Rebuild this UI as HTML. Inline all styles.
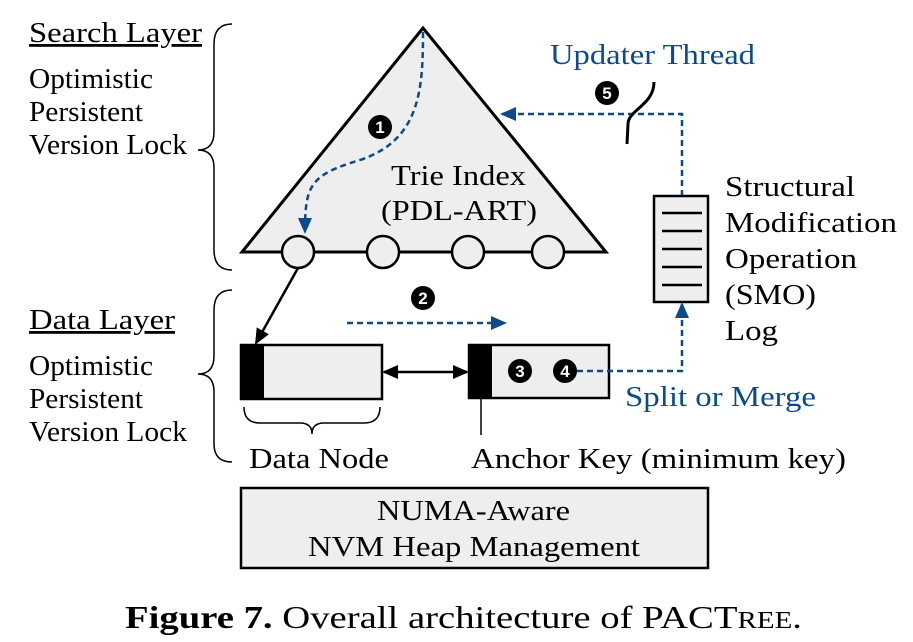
<!DOCTYPE html>
<html><head><style>
body{margin:0;background:#fff;}
svg{display:block;font-family:"Liberation Serif",serif;}
</style></head><body>
<svg width="913" height="642" viewBox="0 0 913 642" xmlns="http://www.w3.org/2000/svg">
<defs>
<marker id="ab" markerWidth="16" markerHeight="14" refX="14" refY="7" orient="auto" markerUnits="userSpaceOnUse"><path d="M0,0 L16,7 L0,14 z" fill="#0d4a8a"/></marker>
<marker id="ak" markerWidth="16" markerHeight="14" refX="14" refY="7" orient="auto-start-reverse" markerUnits="userSpaceOnUse"><path d="M0,0 L16,7 L0,14 z" fill="#000"/></marker>
</defs>
<g font-size="28" fill="#000">
<text x="29" y="42" text-decoration="underline" textLength="173" lengthAdjust="spacingAndGlyphs">Search Layer</text>
<text x="29" y="88" textLength="124" lengthAdjust="spacingAndGlyphs">Optimistic</text>
<text x="29" y="121" textLength="114" lengthAdjust="spacingAndGlyphs">Persistent</text>
<text x="29" y="154" textLength="158" lengthAdjust="spacingAndGlyphs">Version Lock</text>
<text x="29" y="329" text-decoration="underline" textLength="146" lengthAdjust="spacingAndGlyphs">Data Layer</text>
<text x="29" y="375" textLength="124" lengthAdjust="spacingAndGlyphs">Optimistic</text>
<text x="29" y="408" textLength="114" lengthAdjust="spacingAndGlyphs">Persistent</text>
<text x="29" y="441" textLength="158" lengthAdjust="spacingAndGlyphs">Version Lock</text>
</g>
<path d="M232,24 Q214,24 214,44 L214,132 Q214,150 198,150 Q214,150 214,168 L214,250 Q214,270 232,270" fill="none" stroke="#000" stroke-width="1.5"/>
<path d="M232,290 Q214,290 214,310 L214,356 Q214,374 198,374 Q214,374 214,392 L214,444 Q214,462 232,462" fill="none" stroke="#000" stroke-width="1.5"/>
<polygon points="423,28 242,252 606,252" fill="#eeeeee" stroke="#000" stroke-width="3"/>
<g fill="#eeeeee" stroke="#000" stroke-width="2.5">
<circle cx="298" cy="252" r="16"/><circle cx="383" cy="252" r="16"/><circle cx="468" cy="252" r="16"/><circle cx="548" cy="252" r="16"/>
</g>
<text x="391" y="185" font-size="28" textLength="135" lengthAdjust="spacingAndGlyphs">Trie Index</text>
<text x="381" y="220" font-size="28" textLength="156" lengthAdjust="spacingAndGlyphs">(PDL-ART)</text>
<path d="M423,32 C423,90 420,140 360,160 C310,175 305,185 305,232" fill="none" stroke="#0d4a8a" stroke-width="2.5" stroke-dasharray="6,4" marker-end="url(#ab)"/>
<text x="550" y="64" font-size="28" fill="#0d4a8a" textLength="205" lengthAdjust="spacingAndGlyphs">Updater Thread</text>
<path d="M682,196 L682,114 L502,114" fill="none" stroke="#0d4a8a" stroke-width="2.5" stroke-dasharray="6,4" marker-end="url(#ab)"/>
<path d="M654,82 C654,105 628,110 628,124 L627,144" fill="none" stroke="#000" stroke-width="3"/>
<rect x="654" y="196" width="54" height="106" fill="#eeeeee" stroke="#000" stroke-width="2.5"/>
<g stroke="#000" stroke-width="2.5"><line x1="662" y1="213" x2="702" y2="213"/><line x1="662" y1="231" x2="702" y2="231"/><line x1="662" y1="249" x2="702" y2="249"/><line x1="662" y1="267" x2="702" y2="267"/><line x1="662" y1="285" x2="702" y2="285"/></g>
<g font-size="28">
<text x="725" y="196" textLength="130" lengthAdjust="spacingAndGlyphs">Structural</text>
<text x="725" y="232" textLength="172" lengthAdjust="spacingAndGlyphs">Modification</text>
<text x="725" y="268" textLength="132" lengthAdjust="spacingAndGlyphs">Operation</text>
<text x="725" y="304" textLength="91" lengthAdjust="spacingAndGlyphs">(SMO)</text>
<text x="725" y="340" textLength="53" lengthAdjust="spacingAndGlyphs">Log</text>
</g>
<line x1="298" y1="268" x2="256" y2="343" stroke="#000" stroke-width="2.5" marker-end="url(#ak)"/>
<line x1="347" y1="323" x2="505" y2="323" stroke="#0d4a8a" stroke-width="2.5" stroke-dasharray="6,4" marker-end="url(#ab)"/>
<rect x="241" y="345" width="141" height="54" fill="#eeeeee" stroke="#000" stroke-width="2.5"/>
<rect x="241" y="345" width="23" height="54" fill="#000"/>
<rect x="469" y="345" width="140" height="53" fill="#eeeeee" stroke="#000" stroke-width="2.5"/>
<rect x="469" y="345" width="23" height="53" fill="#000"/>
<line x1="384" y1="372" x2="467" y2="372" stroke="#000" stroke-width="2.5" marker-start="url(#ak)" marker-end="url(#ak)"/>
<path d="M577,371 L682,371 L682,304" fill="none" stroke="#0d4a8a" stroke-width="2.5" stroke-dasharray="6,4" marker-end="url(#ab)"/>
<g font-family="Liberation Sans" font-size="17" font-weight="bold" fill="#fff" text-anchor="middle">
<circle cx="380" cy="127" r="12" fill="#000"/><text x="380" y="133">1</text>
<circle cx="607" cy="93" r="12" fill="#000"/><text x="607" y="99">5</text>
<circle cx="423" cy="298" r="12" fill="#000"/><text x="423" y="304">2</text>
<circle cx="520" cy="371" r="12" fill="#000"/><text x="520" y="377">3</text>
<circle cx="565" cy="371" r="12" fill="#000"/><text x="565" y="377">4</text>
</g>
<text x="625" y="406" font-size="28" fill="#0d4a8a" textLength="191" lengthAdjust="spacingAndGlyphs">Split or Merge</text>
<path d="M244,407 Q244,423 260,423 L300,423 Q312,423 312,434 Q312,423 324,423 L364,423 Q380,423 380,407" fill="none" stroke="#000" stroke-width="1.5"/>
<line x1="481" y1="398" x2="481" y2="435" stroke="#000" stroke-width="1.5"/>
<text x="249" y="468" font-size="28" textLength="140" lengthAdjust="spacingAndGlyphs">Data Node</text>
<text x="471" y="468" font-size="28" textLength="375" lengthAdjust="spacingAndGlyphs">Anchor Key (minimum key)</text>
<rect x="241" y="488" width="467" height="80" fill="#eeeeee" stroke="#000" stroke-width="2.5"/>
<text x="377" y="520" font-size="28" textLength="193" lengthAdjust="spacingAndGlyphs">NUMA-Aware</text>
<text x="308" y="556" font-size="28" textLength="332" lengthAdjust="spacingAndGlyphs">NVM Heap Management</text>
<text x="125" y="628" font-size="32" textLength="677" lengthAdjust="spacingAndGlyphs"><tspan font-weight="bold">Figure 7.</tspan> Overall architecture of PACT<tspan font-size="24">REE</tspan>.</text>
</svg>
</body></html>
